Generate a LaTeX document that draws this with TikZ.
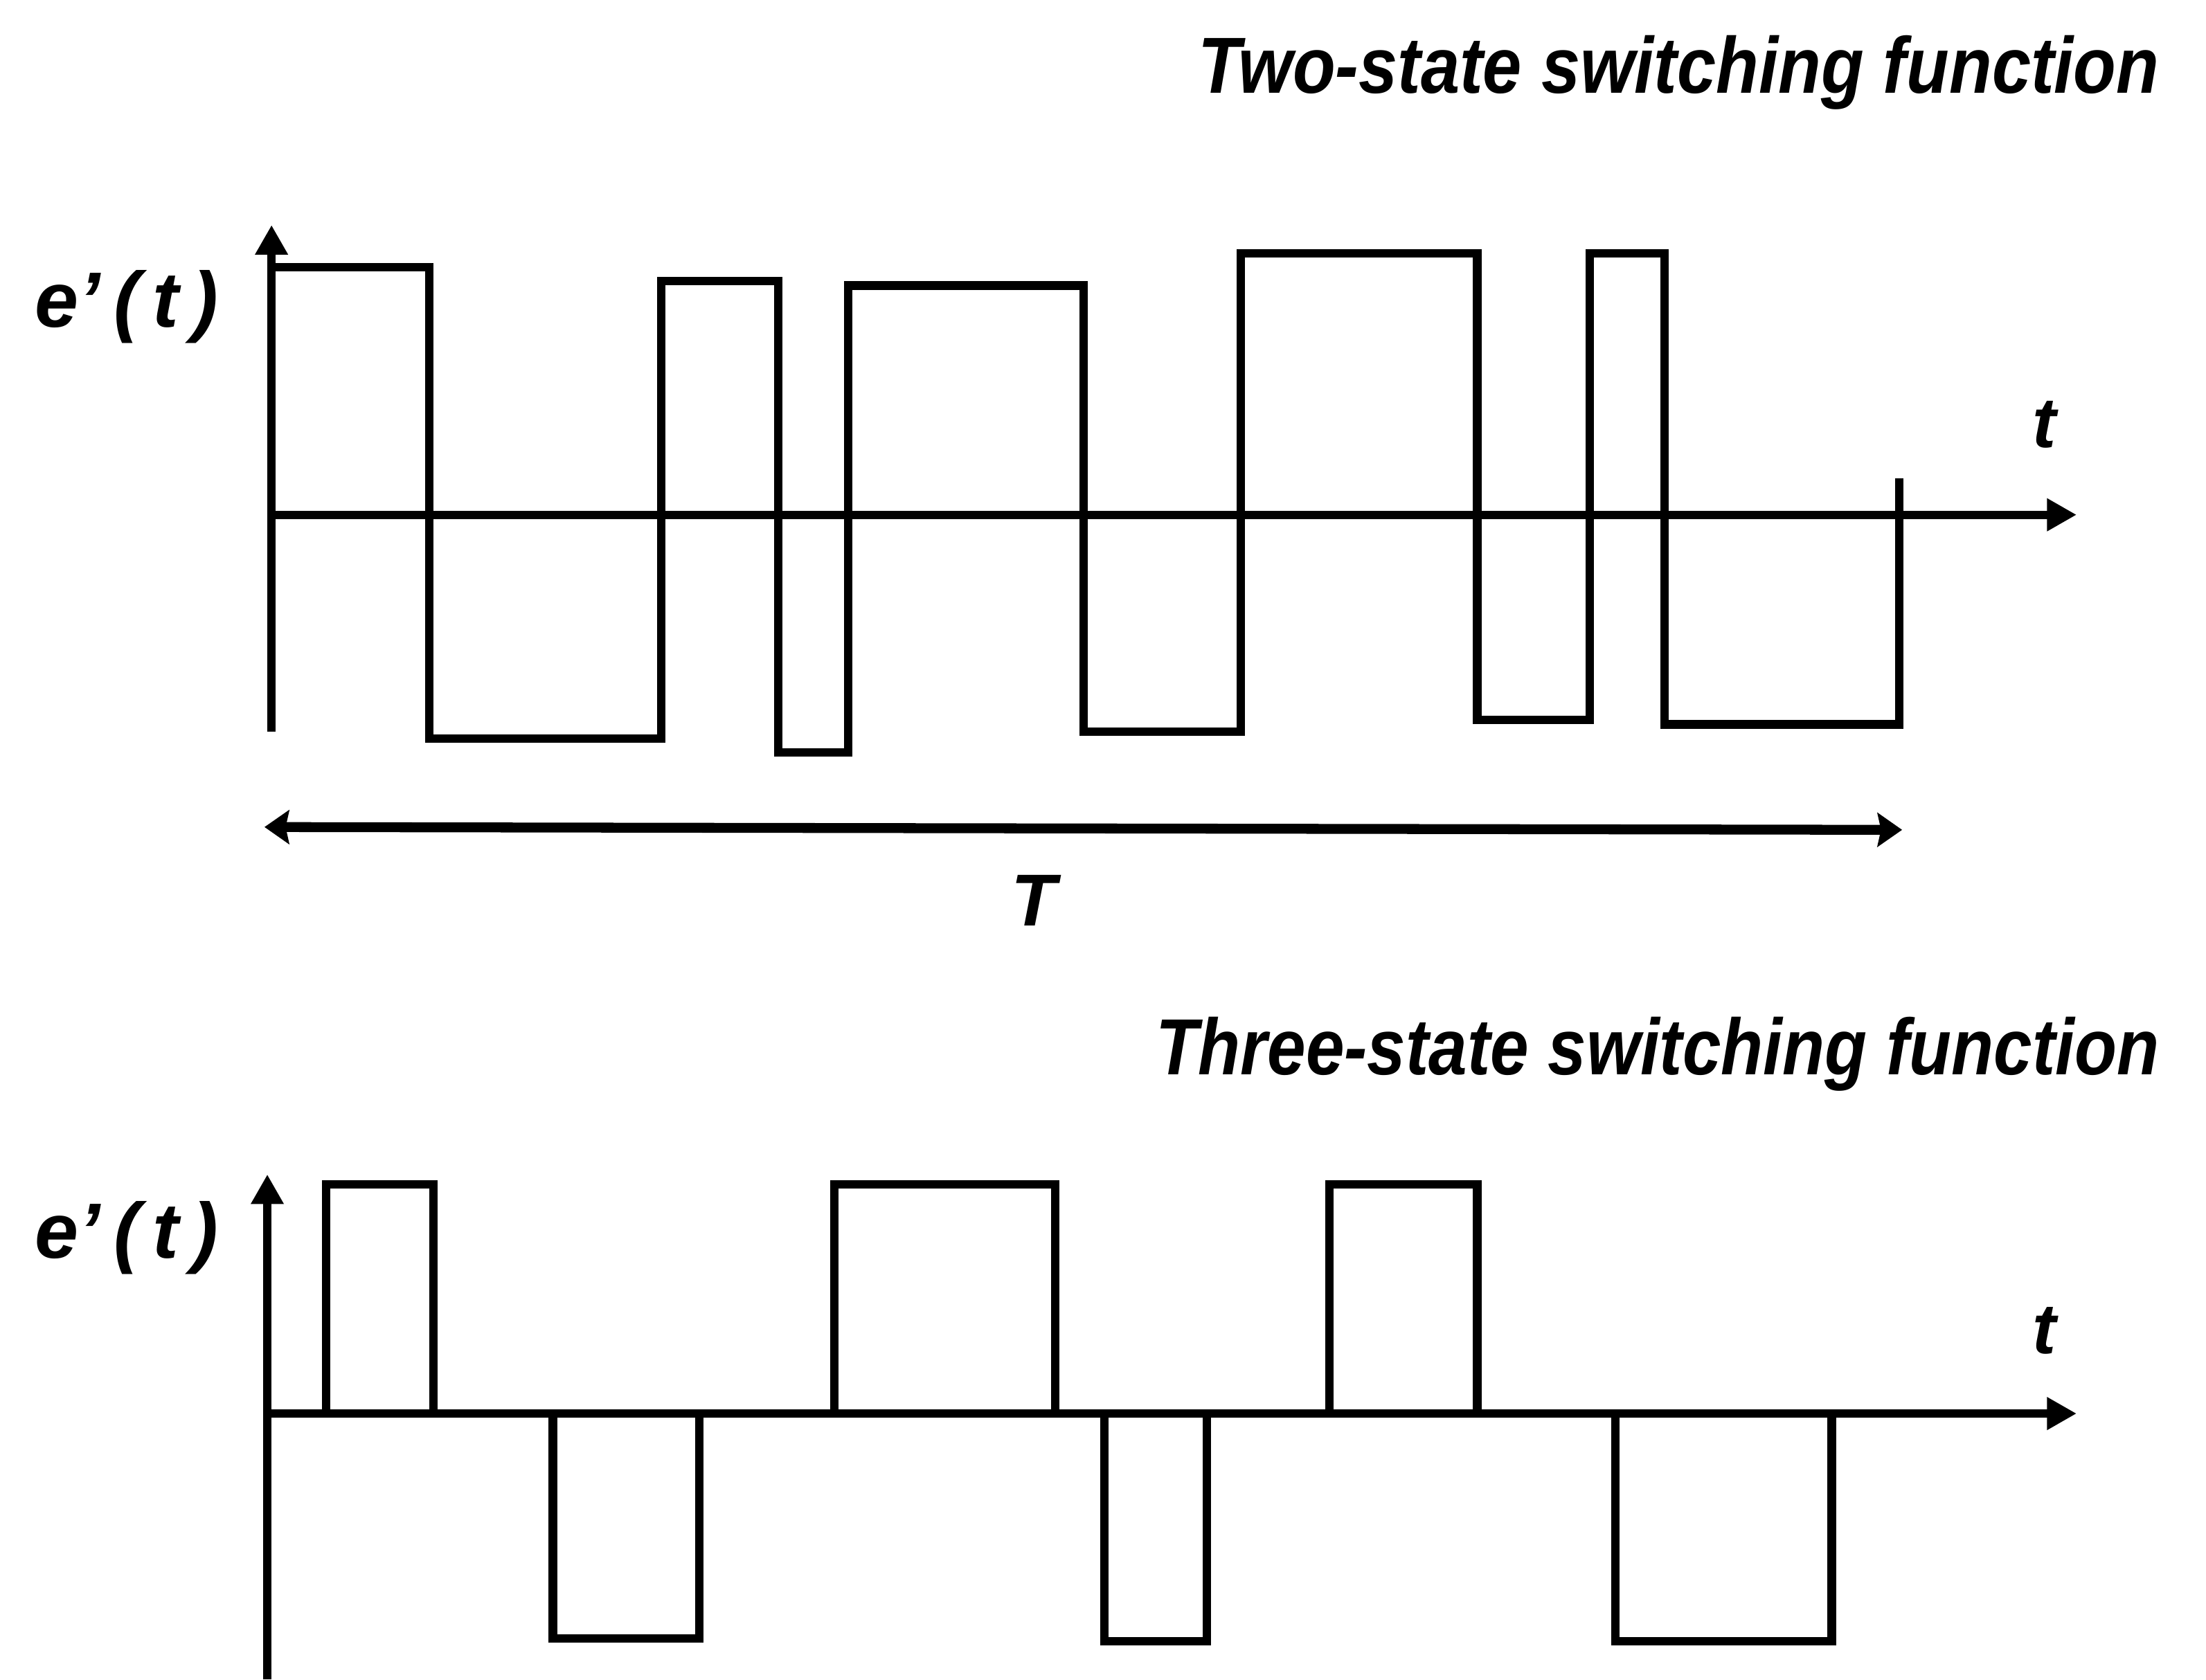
\documentclass[tikz,border=0pt]{standalone}
\usepackage{fontspec}
\setmainfont{Liberation Sans}
\usetikzlibrary{arrows.meta}
\begin{document}
\begin{tikzpicture}[x=0.02cm,y=-0.02cm,
  wave/.style={line width=3.4pt,line join=miter,line cap=rect},
  axis/.style={line width=3.4pt,-{Triangle[length=0.42cm,width=0.44cm]}},
  span/.style={line width=4pt,{Stealth[length=0.35cm,width=0.48cm,inset=0.05cm]}-{Stealth[length=0.35cm,width=0.48cm,inset=0.05cm]}},
  lbl/.style={inner sep=0pt,font=\bfseries\itshape}]
\useasboundingbox (0,0) rectangle (1568,1194);

% ---------- two-state ----------
\node[lbl,anchor=base east] (title1) at (1535,66) {\resizebox{13.66cm}{0.82cm}{Two-state switching function}};
\node[lbl] (ylab1) at (90,218) {\resizebox{2.6cm}{!}{e'\,(\,t\,)}};
\node[lbl] (tlab1) at (1453,302) {\resizebox{!}{0.66cm}{t}};

\coordinate (o1) at (193,520);
\coordinate (ytip1) at (193,160);
\coordinate (x0a) at (193,366);
\coordinate (xtip1) at (1476,366);
\draw[axis] (o1) -- (ytip1);
\draw[axis] (x0a) -- (xtip1);
\draw[wave] (193,190) -- (305,190) -- (305,525) -- (470,525) -- (470,200) -- (553,200)
  -- (553,535) -- (603,535) -- (603,203) -- (770,203) -- (770,520) -- (882,520)
  -- (882,180) -- (1050,180) -- (1050,512) -- (1130,512) -- (1130,180) -- (1183,180)
  -- (1183,515) -- (1350,515) -- (1350,343);

\coordinate (Tl) at (188,588);
\coordinate (Tr) at (1352,590);
\draw[span] (Tl) -- (Tr);
\node[lbl] (Tlab) at (735,640) {\resizebox{!}{0.72cm}{T}};

% ---------- three-state ----------
\node[lbl,anchor=base east] (title2) at (1535,764) {\resizebox{14.26cm}{0.82cm}{Three-state switching function}};
\node[lbl] (ylab2) at (90,880) {\resizebox{2.6cm}{!}{e'\,(\,t\,)}};
\node[lbl] (tlab2) at (1453,946) {\resizebox{!}{0.66cm}{t}};

\coordinate (o2) at (190,1194);
\coordinate (ytip2) at (190,835);
\coordinate (x0b) at (190,1005);
\coordinate (xtip2) at (1476,1005);
\draw[axis] (o2) -- (ytip2);
\draw[axis] (x0b) -- (xtip2);
\draw[wave] (232,1005) -- (232,842) -- (308,842) -- (308,1005);
\draw[wave] (393,1005) -- (393,1165) -- (497,1165) -- (497,1005);
\draw[wave] (593,1005) -- (593,842) -- (750,842) -- (750,1005);
\draw[wave] (785,1005) -- (785,1167) -- (858,1167) -- (858,1005);
\draw[wave] (945,1005) -- (945,842) -- (1050,842) -- (1050,1005);
\draw[wave] (1148,1005) -- (1148,1167) -- (1302,1167) -- (1302,1005);
\end{tikzpicture}
\end{document}
